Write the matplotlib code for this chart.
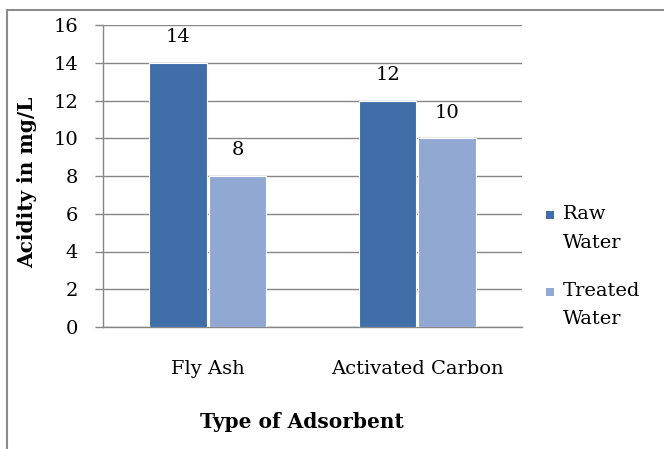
import matplotlib
matplotlib.use("Agg")
import matplotlib.pyplot as plt
from matplotlib.patches import Rectangle
from matplotlib.lines import Line2D
import numpy as np

categories = ["Fly Ash", "Activated Carbon"]
raw_water = [14, 12]
treated_water = [8, 10]
series_names = ["Raw\nWater", "Treated\nWater"]
yticks = [0, 2, 4, 6, 8, 10, 12, 14, 16]

W, H = 664, 449
plt.rcParams['font.family'] = ['DejaVu Serif']
fig = plt.figure(figsize=(W / 100, H / 100), dpi=100)
fig.patch.set_facecolor('white')

def fx(px):
    return px / W

def fy(py):
    return 1 - py / H

ax = fig.add_axes([fx(103), fy(327), fx(522) - fx(103), fy(25) - fy(327)])

dark = '#3F6EA8'
light = '#91A9D2'
gridc = '#868686'
FS = 14

x = np.arange(len(categories)) + 0.5
bw = 0.275
off = 0.142
b1 = ax.bar(x - off, raw_water, bw, color=dark, edgecolor='white', linewidth=0.8, zorder=3)
b2 = ax.bar(x + off, treated_water, bw, color=light, edgecolor='white', linewidth=0.8, zorder=3)

for bars, vals in ((b1, raw_water), (b2, treated_water)):
    for r, v in zip(bars, vals):
        ax.annotate(str(v), (r.get_x() + r.get_width() / 2, v), xytext=(0, 12),
                    textcoords='offset points', ha='center', va='bottom', fontsize=FS)

ax.set_xlim(0, 2)
ax.set_ylim(0, 16)
ax.set_yticks(yticks)
ax.set_xticks(x)
ax.set_xticklabels(categories)
ax.tick_params(axis='x', length=0, pad=24, labelsize=FS)
ax.tick_params(axis='y', length=6, width=1, color=gridc, pad=12, labelsize=FS)
ax.yaxis.grid(True, color=gridc, linewidth=1)
ax.set_axisbelow(True)
for s in ('top', 'right'):
    ax.spines[s].set_visible(False)
for s in ('left', 'bottom'):
    ax.spines[s].set_color(gridc)
    ax.spines[s].set_linewidth(1)

fig.text(fx(302), fy(422), "Type of Adsorbent", ha='center', va='center',
         fontsize=14.5, fontweight='bold')
fig.text(fx(27), fy(182), "Acidity in mg/L", ha='center', va='center',
         fontsize=14.5, fontweight='bold', rotation=90)

# legend
for i, (name, col) in enumerate(zip(series_names, [dark, light])):
    ytop = 211 + i * 77
    fig.patches.append(Rectangle((fx(546), fy(ytop + 8)), fx(8), fy(0) - fy(8),
                                 transform=fig.transFigure, facecolor=col, edgecolor='none'))
    fig.text(fx(563), fy(ytop - 6), name, ha='left', va='top', fontsize=FS,
             linespacing=1.75)

# chart area border
fig.add_artist(Line2D([fx(7), fx(664)], [fy(10), fy(10)], color='#8c8c8c', linewidth=1.5))
fig.add_artist(Line2D([fx(7), fx(7)], [fy(10), fy(449)], color='#8c8c8c', linewidth=1.5))

fig.savefig("out.png", dpi=100)
